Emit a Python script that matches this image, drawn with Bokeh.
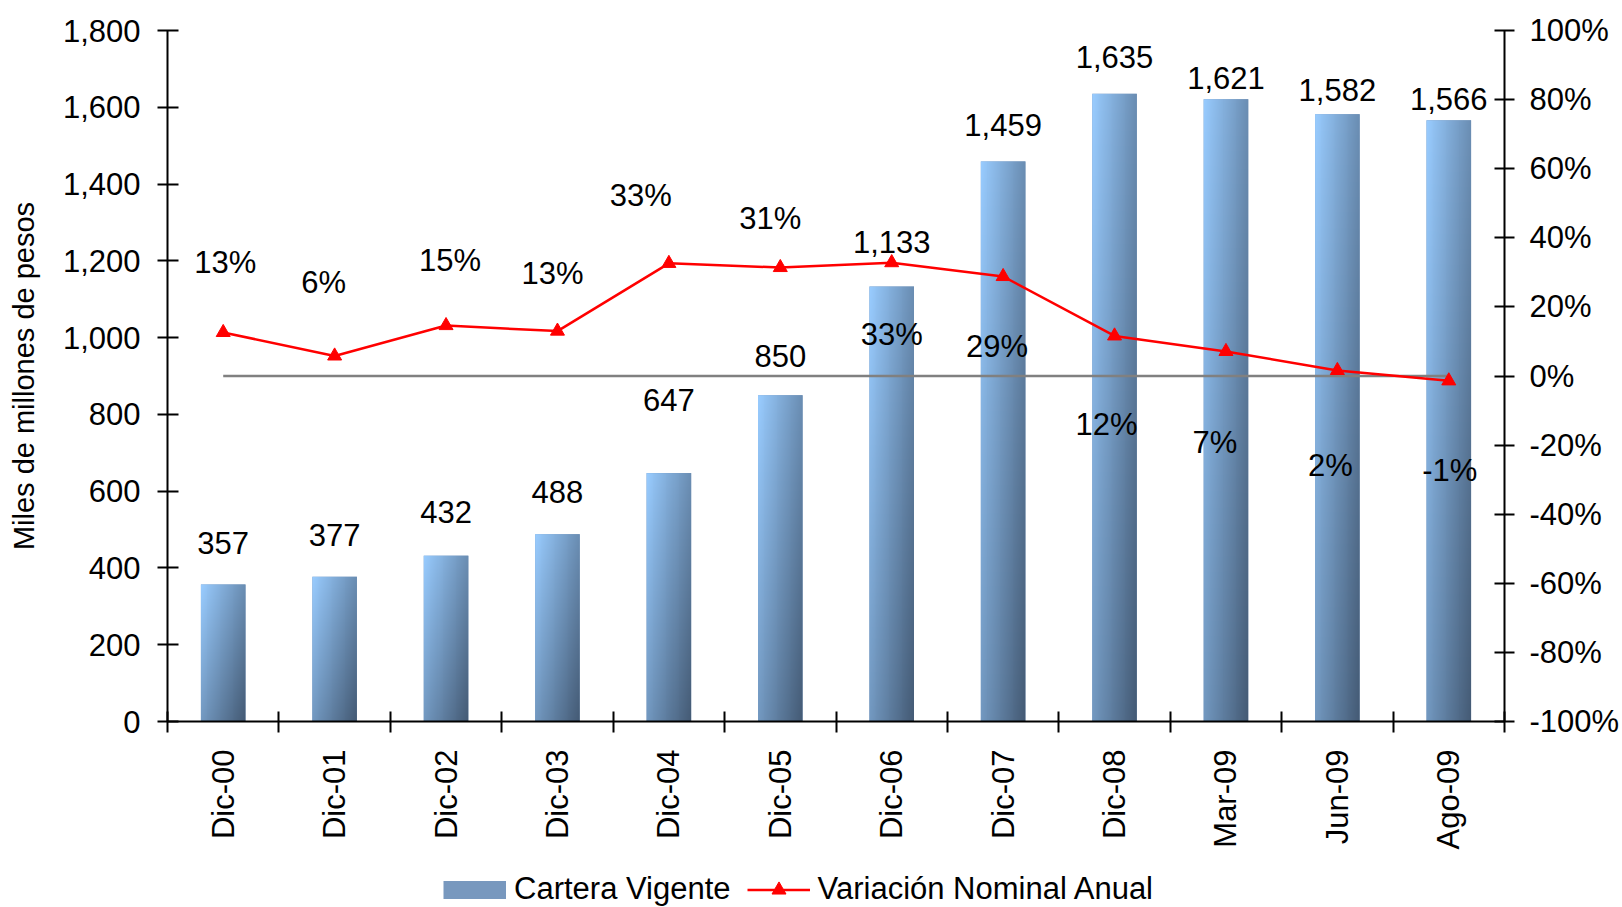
import numpy as np
from bokeh.plotting import figure
from bokeh.layouts import column
from bokeh.models import (Range1d, LinearAxis, FixedTicker, PrintfTickFormatter,
                          NumeralTickFormatter, Legend, LegendItem, ColumnDataSource,
                          CustomJSTickFormatter)
from bokeh.embed import file_html
from bokeh.resources import INLINE
from bokeh.core.properties import value

# ---------------- data ----------------
categories = ["Dic-00", "Dic-01", "Dic-02", "Dic-03", "Dic-04", "Dic-05",
              "Dic-06", "Dic-07", "Dic-08", "Mar-09", "Jun-09", "Ago-09"]
cartera = [357, 377, 432, 488, 647, 850, 1133, 1459, 1635, 1621, 1582, 1566]
variacion = [12.6, 5.8, 14.6, 13.0, 32.6, 31.4, 32.8, 28.8, 11.6, 7.1, 1.6, -1.4]
left_ticks = [0, 200, 400, 600, 800, 1000, 1200, 1400, 1600, 1800]
right_ticks = [-100, -80, -60, -40, -20, 0, 20, 40, 60, 80, 100]

# label placement (pixel offsets, styling only)
bar_label_dy = [-41, -42, -44, -42, -73, -39, -45, -36, -37, -21, -24, -21]
pct_label_dx = [2, -11, 4, -5, -28, -10, 0, -6, -8, -11, -7, 1]
pct_label_dy = [-70, -73, -65, -58, -68, -49, 72, 70, 89, 91, 95, 90]

FONT = "Liberation Sans"
FS = "31px"
BAR_COLOR = "#7898BE"
LINE_COLOR = "#FF0000"

n = len(categories)
xc = [i + 0.5 for i in range(n)]
BAR_W = 0.4

p = figure(width=1622, height=870, x_range=Range1d(0, n), y_range=Range1d(0, 1800),
           output_backend="svg", toolbar_location=None,
           min_border_left=167, min_border_right=118, min_border_top=30,
           min_border_bottom=149)
p.extra_y_ranges = {"pct": Range1d(-100, 100)}
p.outline_line_color = None
p.xgrid.visible = False
p.ygrid.visible = False
p.background_fill_color = "white"
p.border_fill_color = "white"

# ---------------- axes ----------------
xa = p.xaxis[0]
xa.ticker = FixedTicker(ticks=xc, minor_ticks=list(range(n + 1)))
xa.formatter = CustomJSTickFormatter(args=dict(labels=categories),
                                     code="return labels[Math.floor(tick)];")
xa.major_label_orientation = np.pi / 2
xa.major_tick_line_color = None
xa.major_tick_in = 0
xa.major_tick_out = 10
xa.minor_tick_in = 10
xa.minor_tick_out = 11
xa.minor_tick_line_color = "black"
xa.minor_tick_line_width = 2
xa.axis_line_width = 2
xa.axis_line_color = "black"
xa.major_label_standoff = 17
xa.major_label_text_font = FONT
xa.major_label_text_font_size = FS
xa.major_label_text_color = "black"

ya = p.yaxis[0]
ya.ticker = FixedTicker(ticks=left_ticks)
ya.formatter = NumeralTickFormatter(format="0,0")
ya.major_tick_in = 11
ya.major_tick_out = 10
ya.major_tick_line_width = 2
ya.major_tick_line_color = "black"
ya.minor_tick_line_color = None
ya.axis_line_width = 2
ya.axis_line_color = "black"
ya.major_label_standoff = 17
ya.major_label_text_font = FONT
ya.major_label_text_font_size = FS
ya.major_label_text_color = "black"
ya.axis_label = "Miles de millones de pesos"
ya.axis_label_text_font = FONT
ya.axis_label_text_font_size = "29px"
ya.axis_label_text_font_style = "normal"
ya.axis_label_text_color = "black"
ya.axis_label_standoff = 20

ra = LinearAxis(y_range_name="pct", ticker=FixedTicker(ticks=right_ticks),
                formatter=PrintfTickFormatter(format="%d%%"))
ra.major_tick_in = 10
ra.major_tick_out = 10
ra.major_tick_line_width = 2
ra.major_tick_line_color = "black"
ra.minor_tick_line_color = None
ra.axis_line_width = 2
ra.axis_line_color = "black"
ra.major_label_standoff = 15
ra.major_label_text_font = FONT
ra.major_label_text_font_size = FS
ra.major_label_text_color = "black"
p.add_layout(ra, "right")

# ---------------- bars (with gradient overlay) ----------------
bar_src = ColumnDataSource(dict(
    x=xc, top=cartera,
    label=[f"{v:,}" for v in cartera],
    dy=bar_label_dy,
))
p.vbar(x="x", top="top", bottom=0, width=BAR_W, source=bar_src,
       fill_color=BAR_COLOR, line_color=None)

# gradient image (bar-relative, light top-left -> dark bottom-right)
nx, ny = 48, 320
u = np.linspace(0, 1, nx)[None, :]
v = np.linspace(0, 1, ny)[:, None]       # row 0 = bottom
t = np.clip(0.55 * u + 0.45 * (1 - v), 0, 1)
light = np.array([153, 204, 255])
dark = np.array([68, 90, 116])
rgb = light[None, None, :] * (1 - t[..., None]) + dark[None, None, :] * t[..., None]
img = np.empty((ny, nx), dtype=np.uint32)
view = img.view(dtype=np.uint8).reshape((ny, nx, 4))
view[..., 0] = rgb[..., 0].astype(np.uint8)
view[..., 1] = rgb[..., 1].astype(np.uint8)
view[..., 2] = rgb[..., 2].astype(np.uint8)
view[..., 3] = 255
img_src = ColumnDataSource(dict(
    image=[img] * n, x=[c - BAR_W / 2 for c in xc], y=[0] * n,
    dw=[BAR_W] * n, dh=cartera,
))
p.image_rgba(image="image", x="x", y="y", dw="dw", dh="dh", source=img_src)

# bar value labels
p.text(x="x", y="top", text="label", y_offset="dy", source=bar_src,
       text_align="center", text_baseline="middle",
       text_font=value(FONT), text_font_size=value(FS), text_color="black")

# ---------------- zero reference line ----------------
p.segment(x0=xc[0], y0=0, x1=xc[-1], y1=0, y_range_name="pct",
          line_color="#808080", line_width=2.5)

# ---------------- variation line ----------------
pct_src = ColumnDataSource(dict(
    x=xc, y=variacion,
    label=[f"{round(v)}%" for v in variacion],
    dx=pct_label_dx, dy=pct_label_dy,
))
p.line(x="x", y="y", source=pct_src, y_range_name="pct",
       line_color=LINE_COLOR, line_width=2.5)
p.scatter(x="x", y="y", source=pct_src, y_range_name="pct",
          marker="triangle", size=14, fill_color=LINE_COLOR, line_color=LINE_COLOR)
p.text(x="x", y="y", text="label", x_offset="dx", y_offset="dy", source=pct_src,
       y_range_name="pct", text_align="center", text_baseline="middle",
       text_font=value(FONT), text_font_size=value(FS), text_color="black")

# ---------------- legend strip (key only; series kept out of its view) ----------------
lf = figure(width=1622, height=37, x_range=Range1d(-2, -1), y_range=Range1d(-2, -1),
            output_backend="svg", toolbar_location=None,
            x_axis_location=None, y_axis_location=None,
            min_border_left=0, min_border_right=0, min_border_top=0,
            min_border_bottom=0)
lf.outline_line_color = None
lf.xgrid.visible = False
lf.ygrid.visible = False
lf.background_fill_color = "white"
lf.border_fill_color = "white"
k_swatch = lf.line(x=xc, y=cartera, line_color=BAR_COLOR, line_width=18,
                   line_cap="butt")
k_line = lf.line(x=xc, y=variacion, line_color=LINE_COLOR, line_width=2.5)
k_tri = lf.scatter(x=xc, y=variacion, marker="triangle", size=14,
                   fill_color=LINE_COLOR, line_color=LINE_COLOR)
legend = Legend(items=[LegendItem(label="Cartera Vigente", renderers=[k_swatch]),
                       LegendItem(label="Variación Nominal Anual",
                                  renderers=[k_line, k_tri])],
                location=(276, 0), orientation="horizontal",
                border_line_color=None, background_fill_alpha=0,
                padding=0, margin=0, spacing=16, glyph_width=63, glyph_height=35,
                label_standoff=8, label_text_font=FONT, label_text_font_size=FS,
                label_text_color="black")
lf.add_layout(legend)

layout = column(p, lf, spacing=0)
open("out.html", "w").write(file_html(layout, INLINE))
